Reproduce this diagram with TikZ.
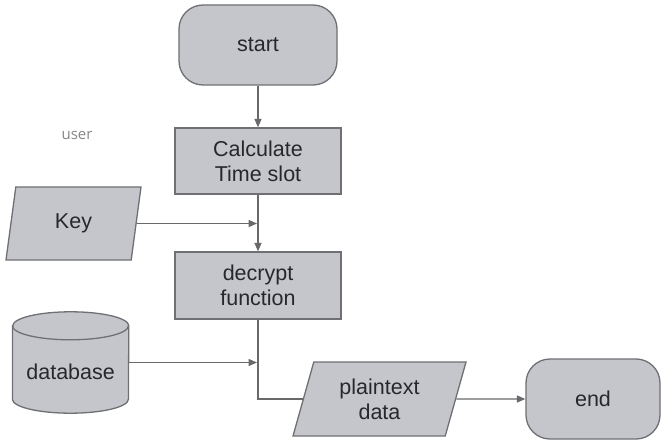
\documentclass[tikz,border=0pt]{standalone}
\usepackage{fontspec}
\setmainfont{Liberation Sans}
\newfontfamily\userfont{Open Sans}
\usetikzlibrary{shapes.geometric,arrows.meta,backgrounds}
\definecolor{shapefill}{RGB}{196,198,203}
\definecolor{shapeline}{RGB}{110,112,116}
\definecolor{linkgray}{RGB}{105,105,108}
\definecolor{textdark}{RGB}{40,40,44}
\definecolor{usergray}{RGB}{135,135,135}
\begin{document}
\begin{tikzpicture}[x=1pt,y=1pt,
  base/.style={draw=shapeline, fill=shapefill, line width=1.3pt, text=textdark,
    font=\fontsize{21.5}{25}\selectfont, align=center, inner sep=0pt},
  terminal/.style={base, rectangle, rounded corners=24pt},
  procbox/.style={base, rectangle},
  iobox/.style={base, trapezium, trapezium left angle=63, trapezium right angle=117,
    trapezium stretches body=true},
  arr/.style={draw=linkgray, line width=1.3pt, -{Triangle[length=8.5pt,width=7pt]}},
  link/.style={draw=linkgray, line width=1.3pt},
  usertext/.style={text=usergray, font=\userfont\fontsize{15}{17}\selectfont, inner sep=0pt}
]
\useasboundingbox (0,0) rectangle (661,445);

\node[terminal, minimum width=158pt, minimum height=80pt] (start) at (258,400) {start};
\node[procbox, minimum width=166pt, minimum height=66pt] (calc) at (258,284) {Calculate\\Time slot};
\node[procbox, minimum width=166pt, minimum height=67pt] (decrypt) at (258,159.5) {decrypt\\function};
\node[iobox, minimum width=135pt, minimum height=73pt] (key) at (73.5,221.5) {Key};
\node[font=\fontsize{21.5}{25}\selectfont, text=textdark, minimum width=116pt, minimum height=101pt, inner sep=0pt] (db) at (70.6,82.5) {\raisebox{-17pt}[0pt][0pt]{database}};
\node[iobox, minimum width=173pt, minimum height=74pt] (plain) at (379.5,46) {plaintext\\data};
\node[terminal, minimum width=134pt, minimum height=80pt] (end) at (593,46) {end};
\node[usertext] (user) at (77,310) {user};

\begin{scope}[on background layer]
  \fill[white] (0,0) rectangle (661,445);
  \path[draw=shapeline, fill=shapefill, line width=1.3pt]
    ([yshift=-14pt]db.north west) -- ([yshift=14pt]db.south west)
    arc[start angle=180, end angle=360, x radius=58pt, y radius=14pt]
    -- ([yshift=-14pt]db.north east)
    arc[start angle=0, end angle=180, x radius=58pt, y radius=14pt] -- cycle;
  \draw[draw=shapeline, line width=1.3pt] ([yshift=-14pt]db.north west)
    arc[start angle=180, end angle=360, x radius=58pt, y radius=14pt];
\end{scope}

\draw[arr] (start) -- (calc);
\draw[arr] (calc) -- (decrypt);
\draw[arr] (key.east) -- ([xshift=-1pt]key.east -| calc.south);
\draw[arr] (db.east) -- ([xshift=-1pt]db.east -| decrypt.south);
\draw[link] (decrypt.south) |- (plain.west);
\draw[arr] (plain.east) -- (end.west);
\end{tikzpicture}
\end{document}
